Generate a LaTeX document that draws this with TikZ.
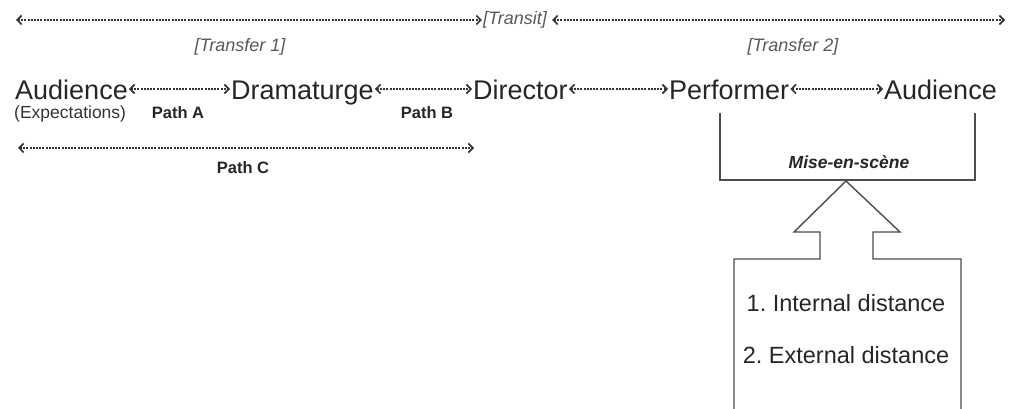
\documentclass[tikz,border=0pt]{standalone}
\usepackage{fontspec}
\setmainfont{Liberation Sans}
\usetikzlibrary{arrows.meta}
\frenchspacing

\tikzset{
  link/.style={line width=1.3pt, draw=black!80, dash pattern=on 2pt off 1.2pt,
    {Straight Barb[length=4.5pt,width=9pt,line width=1.6pt]}-{Straight Barb[length=4.5pt,width=9pt,line width=1.6pt]}},
  actor/.style={anchor=base west, inner sep=1pt, text height=22pt, text depth=0pt,
    font=\fontsize{27}{30}\selectfont, text=black!85},
  note/.style={font=\itshape\fontsize{18}{20}\selectfont, text=black!65, inner sep=1pt},
  pathlabel/.style={font=\bfseries\fontsize{16.5}{19}\selectfont, text=black!85},
  frame/.style={line width=1.4pt, draw=black!70}
}

\begin{document}
\begin{tikzpicture}[x=1pt,y=-1pt]
\useasboundingbox (0,0) rectangle (1015,409);

% the chain of transfer
\node (aud1) [actor] at (14,100) {Audience};
\node (dram) [actor] at (230,100) {Dramaturge};
\node (dir) [actor] at (472,100) {Director};
\node (perf) [actor] at (668,100) {Performer};
\node (aud2) [actor] at (883,100) {Audience};
\draw [link] (aud1.east) -- (dram.west);
\draw [link] (dram.east) -- (dir.west);
\draw [link] (dir.east) -- (perf.west);
\draw [link] (perf.east) -- (aud2.west);

\node (expect) [anchor=north west, inner sep=0pt, font=\fontsize{17.5}{20}\selectfont, text=black!80] at (14,106) {(Expectations)};
\node (pa) [pathlabel] at (178,113) {Path A};
\node (pb) [pathlabel] at (427,113) {Path B};

% transit across the whole row
\node (transit) [note] at (515,20) {[Transit]};
\coordinate (tl) at (16,20);
\coordinate (tr) at (1005,20);
\draw [link] (tl) -- (transit.west);
\draw [link] ([xshift=4pt]transit.east) -- (tr);

\node (tf1) [note] at (240,47) {[Transfer 1]};
\node (tf2) [note] at (793,47) {[Transfer 2]};

% path C
\coordinate (cl) at (18,148);
\coordinate (cr) at (474,148);
\draw [link] (cl) -- (cr);
\node (pc) [pathlabel] at (243,168) {Path C};

% mise-en-scene bracket
\draw [frame] (720,113) -- (720,180) -- (975,180) -- (975,113);
\node (mise) [font=\bfseries\itshape\fontsize{17.5}{19}\selectfont, text=black!85] at (849,162) {Mise-en-scène};

% big arrow pointing up into the bracket
\draw [frame] (734,409) -- (734,259) -- (820,259) -- (820,232) -- (794,232)
  -- (846,181) -- (900,232) -- (873,232) -- (873,259) -- (961,259) -- (961,409);
\node (idist) [font=\fontsize{23.5}{26}\selectfont, text=black!85] at (846,303) {1. Internal distance};
\node (edist) [font=\fontsize{23.5}{26}\selectfont, text=black!85] at (846,355) {2. External distance};

\end{tikzpicture}
\end{document}
